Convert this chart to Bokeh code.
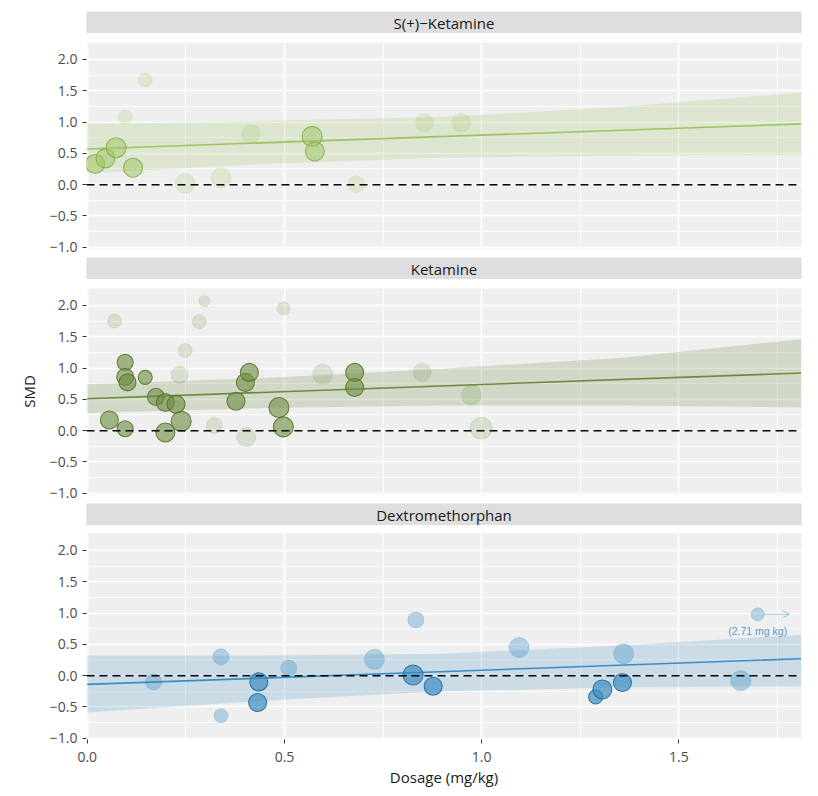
from bokeh.plotting import figure
from bokeh.layouts import column
from bokeh.models import (FixedTicker, Range1d, Span, Arrow, OpenHead, ColumnDataSource,
                          Grid, LinearAxis)
from bokeh.embed import file_html
from bokeh.resources import INLINE
from bokeh.core.properties import value

FONT = "Open Sans"

# ---------------- data ----------------
panel_titles = ["S(+)\u2212Ketamine", "Ketamine", "Dextromethorphan"]
panel_colors = ["#9CC35E", "#6B8A3C", "#3A8DC2"]
panel_edge = ["#86AE4A", "#55702C", "#23689A"]

# S(+)-Ketamine
sk_main_x = [0.020, 0.046, 0.073, 0.116, 0.570, 0.577]
sk_main_y = [0.33, 0.42, 0.59, 0.27, 0.77, 0.53]
sk_main_w = [9.5, 9.5, 10, 9.5, 10, 9.5]
sk_other_x = [0.147, 0.096, 0.248, 0.339, 0.415, 0.682, 0.855, 0.948]
sk_other_y = [1.67, 1.08, 0.02, 0.11, 0.81, 0.01, 0.99, 0.99]
sk_other_w = [7, 7, 10, 10, 9, 8.5, 9, 9.5]
sk_fit_x = [0.0, 1.81]
sk_fit_y = [0.57, 0.97]
sk_band_x = [0.0, 0.45, 0.9, 1.35, 1.81]
sk_band_lo = [0.18, 0.33, 0.43, 0.46, 0.47]
sk_band_hi = [0.97, 1.02, 1.08, 1.24, 1.47]

# Ketamine
k_main_x = [0.096, 0.096, 0.102, 0.147, 0.056, 0.096, 0.174, 0.198, 0.225,
            0.198, 0.238, 0.377, 0.401, 0.411, 0.486, 0.497, 0.678, 0.678]
k_main_y = [1.09, 0.86, 0.77, 0.85, 0.17, 0.03, 0.54, 0.45, 0.42,
            -0.03, 0.15, 0.47, 0.77, 0.93, 0.37, 0.06, 0.93, 0.69]
k_main_w = [8, 8.5, 8.5, 7, 9, 8, 8.5, 9, 9,
            9.5, 10, 9, 9, 9, 10, 10, 9, 9]
k_other_x = [0.069, 0.284, 0.297, 0.248, 0.234, 0.322, 0.403, 0.498,
             0.597, 0.849, 0.974, 0.999]
k_other_y = [1.75, 1.74, 2.07, 1.28, 0.89, 0.08, -0.10, 1.95,
             0.90, 0.93, 0.57, 0.04]
k_other_w = [7, 7, 5.5, 7, 8.5, 8, 9.5, 6.5, 10, 9, 10, 11]
k_fit_x = [0.0, 1.81]
k_fit_y = [0.51, 0.92]
k_band_x = [0.0, 0.45, 0.9, 1.35, 1.81]
k_band_lo = [0.28, 0.36, 0.40, 0.40, 0.37]
k_band_hi = [0.74, 0.84, 0.99, 1.16, 1.46]

# Dextromethorphan
d_main_x = [0.435, 0.432, 0.826, 0.877, 1.289, 1.306, 1.357]
d_main_y = [-0.10, -0.43, 0.01, -0.17, -0.34, -0.22, -0.11]
d_main_w = [9, 9, 10, 9, 7, 9.5, 9]
d_other_x = [0.168, 0.339, 0.339, 0.511, 0.728, 0.833, 1.095, 1.360, 1.657]
d_other_y = [-0.10, 0.30, -0.64, 0.12, 0.26, 0.89, 0.45, 0.35, -0.08]
d_other_w = [8, 8, 7, 8, 10, 8, 10, 10, 10]
d_fit_x = [0.0, 1.81]
d_fit_y = [-0.14, 0.27]
d_band_x = [0.0, 0.45, 0.9, 1.35, 1.81]
d_band_lo = [-0.59, -0.40, -0.25, -0.19, -0.17]
d_band_hi = [0.32, 0.32, 0.35, 0.48, 0.65]

# off-scale study (drawn at the panel edge)
off_x = [1.70]
off_y = [0.98]
off_w = [6.5]
off_label = ["(2.71 mg kg)"]

x_ticks = [0.0, 0.5, 1.0, 1.5]
x_tick_labels = ["0.0", "0.5", "1.0", "1.5"]
y_ticks = [-1.0, -0.5, 0.0, 0.5, 1.0, 1.5, 2.0]
y_tick_labels = ["\u22121.0", "\u22120.5", "0.0", "0.5", "1.0", "1.5", "2.0"]

panels = [
    dict(mx=sk_main_x, my=sk_main_y, mw=sk_main_w, ox=sk_other_x, oy=sk_other_y, ow=sk_other_w,
         fx=sk_fit_x, fy=sk_fit_y, bx=sk_band_x, blo=sk_band_lo, bhi=sk_band_hi,
         main_alpha=0.5, other_alpha=0.2, band_alpha=0.22),
    dict(mx=k_main_x, my=k_main_y, mw=k_main_w, ox=k_other_x, oy=k_other_y, ow=k_other_w,
         fx=k_fit_x, fy=k_fit_y, bx=k_band_x, blo=k_band_lo, bhi=k_band_hi,
         main_alpha=0.6, other_alpha=0.18, band_alpha=0.22),
    dict(mx=d_main_x, my=d_main_y, mw=d_main_w, ox=d_other_x, oy=d_other_y, ow=d_other_w,
         fx=d_fit_x, fy=d_fit_y, bx=d_band_x, blo=d_band_lo, bhi=d_band_hi,
         main_alpha=0.7, other_alpha=0.33, band_alpha=0.2),
]

# ---------------- layout ----------------
X_RANGE = (-0.002, 1.811)
Y_RANGE = (-1.02, 2.27)
FW, FH, SH = 715, 206, 22
BL, BR = 86, 6
SIZE_SCALE = 2.0

PANEL_BG = "#EFEFEF"
STRIP_BG = "#DEDEDE"
TICK_COLOR = "#4D4D4D"


def make_strip(title, top):
    s = figure(frame_width=FW, frame_height=SH, x_range=(0, 1), y_range=(0, 1),
               x_axis_type=None, y_axis_type=None, toolbar_location=None,
               output_backend="svg", min_border_left=BL, min_border_right=BR,
               min_border_top=top, min_border_bottom=0)
    s.grid.visible = False
    s.outline_line_color = None
    s.background_fill_color = STRIP_BG
    s.border_fill_color = "white"
    s.text(x=[0.5], y=[0.5], text=[title], text_align="center", text_baseline="middle",
           text_font=value(FONT), text_font_size="15px", text_color="#1A1A1A")
    return s


def make_panel(i, top, bottom, show_x, ylabel):
    d = panels[i]
    col = panel_colors[i]
    edge = panel_edge[i]
    p = figure(frame_width=FW, frame_height=FH,
               x_range=Range1d(*X_RANGE), y_range=Range1d(*Y_RANGE),
               x_axis_type=None, y_axis_type=None, toolbar_location=None,
               output_backend="svg", min_border_left=BL, min_border_right=BR,
               min_border_top=top, min_border_bottom=bottom)
    p.outline_line_color = None
    p.background_fill_color = PANEL_BG
    p.border_fill_color = "white"

    xt = FixedTicker(ticks=x_ticks, minor_ticks=[0.25, 0.75, 1.25, 1.75])
    yt = FixedTicker(ticks=y_ticks, minor_ticks=[-0.75, -0.25, 0.25, 0.75, 1.25, 1.75])
    for dim, tk in ((0, xt), (1, yt)):
        g = Grid(dimension=dim, ticker=tk, grid_line_color="white", grid_line_width=1.6,
                 minor_grid_line_color="white", minor_grid_line_width=0.8)
        p.add_layout(g)

    yax = LinearAxis(ticker=FixedTicker(ticks=y_ticks),
                     major_label_overrides={t: l for t, l in zip(y_ticks, y_tick_labels)})
    yax.axis_line_color = None
    yax.major_tick_line_color = "#333333"
    yax.major_tick_out = 4
    yax.major_tick_in = 0
    yax.minor_tick_line_color = None
    yax.major_label_text_font = FONT
    yax.major_label_text_font_size = "14px"
    yax.major_label_text_color = TICK_COLOR
    yax.major_label_standoff = 5
    if ylabel:
        yax.axis_label = ylabel
        yax.axis_label_text_font = FONT
        yax.axis_label_text_font_size = "15px"
        yax.axis_label_text_font_style = "normal"
        yax.axis_label_text_color = "#1A1A1A"
        yax.axis_label_standoff = 8
    p.add_layout(yax, "left")

    if show_x:
        xax = LinearAxis(ticker=FixedTicker(ticks=x_ticks),
                         major_label_overrides={t: l for t, l in zip(x_ticks, x_tick_labels)})
        xax.axis_line_color = None
        xax.major_tick_line_color = "#333333"
        xax.major_tick_out = 4
        xax.major_tick_in = 0
        xax.minor_tick_line_color = None
        xax.major_label_text_font = FONT
        xax.major_label_text_font_size = "14px"
        xax.major_label_text_color = TICK_COLOR
        xax.major_label_standoff = 8
        xax.axis_label = "Dosage (mg/kg)"
        xax.axis_label_text_font = FONT
        xax.axis_label_text_font_size = "15px"
        xax.axis_label_text_font_style = "normal"
        xax.axis_label_text_color = "#1A1A1A"
        xax.axis_label_standoff = 2
        p.add_layout(xax, "below")

    # confidence band and fitted line
    p.varea(x=d["bx"], y1=d["blo"], y2=d["bhi"], fill_color=col, fill_alpha=d["band_alpha"])
    p.line(x=d["fx"], y=d["fy"], line_color=col, line_width=1.6)

    other = ColumnDataSource(dict(x=d["ox"], y=d["oy"], s=[w * SIZE_SCALE for w in d["ow"]]))
    main = ColumnDataSource(dict(x=d["mx"], y=d["my"], s=[w * SIZE_SCALE for w in d["mw"]]))
    p.scatter("x", "y", size="s", source=other, fill_color=col, fill_alpha=d["other_alpha"],
              line_color=col, line_alpha=d["other_alpha"] * 0.8, line_width=1)
    p.scatter("x", "y", size="s", source=main, fill_color=col, fill_alpha=d["main_alpha"],
              line_color=edge, line_alpha=0.85, line_width=1.1)

    if i == 2:
        offs = ColumnDataSource(dict(x=off_x, y=off_y, s=[w * SIZE_SCALE for w in off_w]))
        p.scatter("x", "y", size="s", source=offs, fill_color=col, fill_alpha=d["other_alpha"],
                  line_color=col, line_alpha=0.25, line_width=1)
        arrow_col = "#9CC6E2"
        p.add_layout(Arrow(end=OpenHead(size=7, line_color=arrow_col, line_width=1),
                           x_start=off_x[0] + 0.013, y_start=off_y[0],
                           x_end=X_RANGE[1] - 0.03, y_end=off_y[0],
                           line_color=arrow_col, line_width=1))
        p.text(x=off_x, y=[v - 0.27 for v in off_y], text=off_label, text_align="center",
               text_baseline="middle", text_font=value("Liberation Sans"),
               text_font_size="10.5px", text_color="#5B9BC9")

    p.add_layout(Span(location=0, dimension="width", line_color="black",
                      line_dash="8 5", line_width=1.5))
    return p


s1 = make_strip(panel_titles[0], 11)
p1 = make_panel(0, 9, 9, False, None)
s2 = make_strip(panel_titles[1], 0)
p2 = make_panel(1, 9, 9, False, "SMD")
s3 = make_strip(panel_titles[2], 0)
p3 = make_panel(2, 8, 46, True, None)

layout = column(s1, p1, s2, p2, s3, p3, spacing=0)
open("out.html", "w").write(file_html(layout, INLINE))
